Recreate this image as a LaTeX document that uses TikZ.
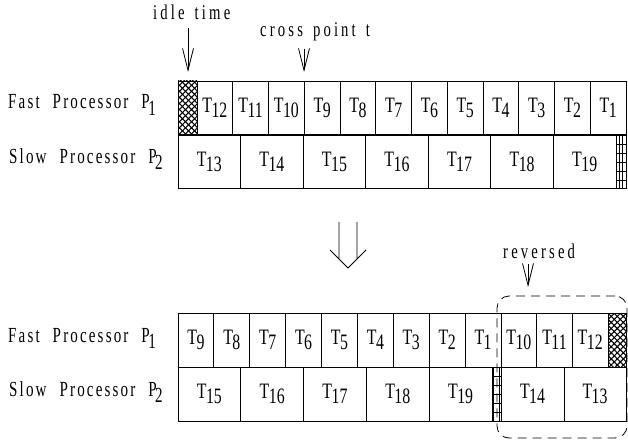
\documentclass[tikz,border=0pt]{standalone}
\usepackage{fontspec}
\setmainfont{Liberation Serif}
\newfontfamily\labfont{Liberation Serif}[FakeStretch=0.7,LetterSpace=10]
\newfontfamily\annfont{Liberation Serif}[FakeStretch=0.7,LetterSpace=15]
\newfontfamily\cellfont{Liberation Serif}[FakeStretch=0.72]
\usetikzlibrary{arrows.meta,patterns.meta}
\newcommand\tk[1]{{\cellfont\fontsize{22}{22}\selectfont T\kern-0.5pt\raisebox{-5pt}{#1}}}
\newcommand\procP[1]{P\kern-1.5pt\raisebox{-6pt}{#1}}
\newcommand\lsp{\hspace{13pt}}
\newcommand\asp{\hspace{10pt}}
\begin{document}
\begin{tikzpicture}[x=1pt,y=-1pt,
  cell/.style={draw,line width=0.9pt,inner sep=0pt,outer sep=0pt,minimum height=54pt},
  idle/.style={cell,preaction={pattern={Lines[angle=45,distance=4.3pt,line width=1.1pt]}},
               pattern={Lines[angle=-45,distance=4.3pt,line width=1.1pt]}},
  lab/.style={anchor=base west,inner sep=0pt,font=\labfont\fontsize{21.5}{22}\selectfont},
  ann/.style={anchor=base west,inner sep=0pt,font=\annfont\fontsize{21}{21}\selectfont},
  varrow/.style={line width=0.8pt,-{Straight Barb[length=22pt,width=11pt]}},
  ladder/.style={line width=0.9pt}]
\useasboundingbox (0,0) rectangle (628,441);

% ---------- top diagram ----------
\node[lab] (f1) at (8,109) {Fast\lsp Processor\lsp\procP{1}};
\node[lab] (s1) at (9,163) {Slow\lsp Processor\lsp\procP{2}};

\node[idle,minimum width=19pt] (idle1) at (187.5,108) {};
\foreach \n [count=\i from 0] in {12,11,...,1}
  \node[cell,minimum width=35.75pt] (tf\n) at ({197+35.75*(\i+0.5)},108) {\tk{\n}};
\foreach \n [count=\i from 0] in {13,14,...,19}
  \node[cell,minimum width=62.57pt] (ts\n) at ({178+62.57*(\i+0.5)},161.5) {\tk{\n}};
\node[cell,minimum width=10pt,minimum height=53.5pt] (lad1) at (621,161.5) {};
\foreach \xx in {619.3,622.7} \draw[ladder] (\xx,135) -- (\xx,188);
\foreach \yy in {144,153,162,171,180} \draw[ladder] (616,\yy) -- (626,\yy);

\node[ann] (idletxt) at (153,20) {idle\asp time};
\coordinate (ia) at (188,28);
\coordinate (ib) at (188,72);
\draw[varrow] (ia) -- (ib);
\node[ann] (crosstxt) at (260,37) {cross\asp point\asp t};
\coordinate (ca) at (304,49);
\coordinate (cb) at (304,72);
\draw[varrow] (ca) -- (cb);

% ---------- big arrow ----------
\draw[line width=0.9pt] (339,222) -- (339,259) (357,222) -- (357,259)
  (330,250) -- (348,268) -- (366,250);

% ---------- bottom diagram ----------
\node[lab] (f2) at (8,342) {Fast\lsp Processor\lsp\procP{1}};
\node[lab] (s2) at (9,396) {Slow\lsp Processor\lsp\procP{2}};

\foreach \n [count=\i from 0] in {9,8,...,1}
  \node[cell,minimum width=35.89pt] (bf\n) at ({178+35.89*(\i+0.5)},340) {\tk{\n}};
\foreach \n [count=\i from 0] in {10,11,12}
  \node[cell,minimum width=35.67pt] (bf\n) at ({501+35.67*(\i+0.5)},340) {\tk{\n}};
\node[idle,minimum width=18pt] (idle2) at (617,340) {};

\foreach \n [count=\i from 0] in {15,16,...,19}
  \node[cell,minimum width=62.8pt] (bs\n) at ({178+62.8*(\i+0.5)},394) {\tk{\n}};
\node[cell,minimum width=9pt] (lad2) at (496.5,394) {};
\draw[ladder] (493.5,367) -- (493.5,421) (499.5,367) -- (499.5,421);
\foreach \yy in {376,385,394,403,412} \draw[ladder] (492,\yy) -- (501,\yy);
\node[cell,minimum width=63pt] (bs14) at (532.5,394) {\tk{14}};
\node[cell,minimum width=62pt] (bs13) at (595,394) {\tk{13}};

\node[draw,line width=0.8pt,dash pattern=on 9pt off 6pt,rounded corners=12pt,
      minimum width=130pt,minimum height=142pt,inner sep=0pt] (rev) at (562,367) {};
\node[ann] (revtxt) at (503,258) {reversed};
\coordinate (ra) at (528,264);
\coordinate (rb) at (528,287);
\draw[varrow] (ra) -- (rb);
\end{tikzpicture}
\end{document}
